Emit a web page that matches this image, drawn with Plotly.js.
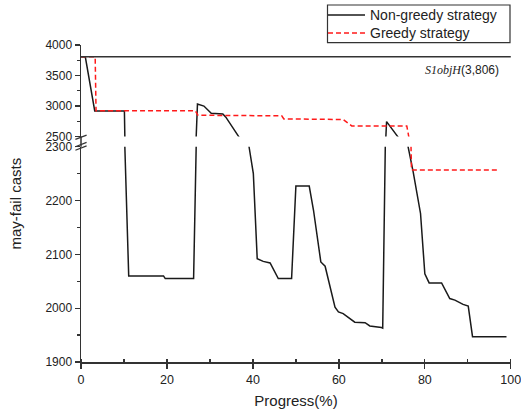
<!DOCTYPE html>
<html>
<head>
<meta charset="utf-8">
<script src="https://cdn.plot.ly/plotly-3.0.1.min.js"></script>
<style>html,body{margin:0;padding:0;background:#fff;}#chart{width:521px;height:419px;}</style>
</head>
<body>
<div id="chart"></div>
<script>
// ---- data ----
const nonGreedyX = [0, 1, 3.2, 10.1, 10.2, 10.2, 11.1, 19.2, 19.6, 26.2, 26.8, 26.8, 27.1, 28.6, 30.3, 33.0, 33.7, 36.7, 39.1, 40.1, 41.0, 42.4, 44.0, 45.9, 49.0, 50.0, 53.1, 54.1, 55.8, 56.8, 59.1, 59.9, 61.0, 63.7, 66.1, 67.2, 69.9, 70.2, 70.8, 71.0, 71.1, 73.7, 76.1, 77.3, 79.0, 80.0, 81.0, 83.9, 85.8, 87.0, 88.9, 90.1, 91.1, 99.0];
const nonGreedyY = [3806, 3806, 2920, 2920, 2500, 2300, 2060, 2060, 2055, 2055, 2300, 2500, 3033, 3000, 2883, 2872, 2818, 2500, 2300, 2250, 2092, 2087, 2084, 2055, 2055, 2227, 2227, 2182, 2086, 2078, 2002, 1993, 1990, 1974, 1973, 1967, 1964, 1963, 2300, 2500, 2746, 2500, 2300, 2253, 2176, 2064, 2047, 2047, 2018, 2015, 2007, 2004, 1947, 1947];

const greedyX = [0, 3.3, 3.5, 26.6, 27.2, 46.7, 47.2, 61.0, 63.0, 75.8, 76.9, 97.1];
const greedyY = [3806, 3806, 2925, 2925, 2850, 2840, 2790, 2780, 2675, 2675, 2257, 2257];

const seriesNames = ["Non-greedy strategy", "Greedy strategy"];
const thresholdX = [0, 100];
const thresholdValue = 3806;
const thresholdLabel = "S1objH";
const thresholdText = "(3,806)";

const xTitle = "Progress(%)";
const yTitle = "may-fail casts";
const xTicks = [0, 20, 40, 60, 80, 100];
const lowerTicks = [1900, 2000, 2100, 2200, 2300];
const upperTicks = [2500, 3000, 3500, 4000];
const lowerRange = [1900, 2300];
const upperRange = [2500, 4000];

// ---- styles ----
const black = "#1a1a1a";
const red = "#ff1a1a";
const sans = "Liberation Sans, Arial, sans-serif";
const tickFont = {family: sans, size: 12.5, color: "#222"};
const axisCommon = {
  showgrid: false, zeroline: false, showline: true, linecolor: "#333", linewidth: 1.5,
  ticks: "outside", ticklen: 5, tickwidth: 1.3, tickcolor: "#333", tickfont: tickFont,
  ticklabeloverflow: "allow"
};

const lineBlack = {color: black, width: 1.5};
const lineRed = {color: red, width: 1.5, dash: "5px,3px"};

const traces = [
  {x: nonGreedyX, y: nonGreedyY, type: "scatter", mode: "lines", name: seriesNames[0], line: lineBlack, xaxis: "x", yaxis: "y", showlegend: false},
  {x: greedyX, y: greedyY, type: "scatter", mode: "lines", name: seriesNames[1], line: lineRed, xaxis: "x", yaxis: "y", showlegend: false},
  {x: nonGreedyX, y: nonGreedyY, type: "scatter", mode: "lines", showlegend: false, line: lineBlack, xaxis: "x", yaxis: "y2"},
  {x: greedyX, y: greedyY, type: "scatter", mode: "lines", showlegend: false, line: lineRed, xaxis: "x", yaxis: "y2"},
  {x: thresholdX, y: thresholdX.map(() => thresholdValue), type: "scatter", mode: "lines", showlegend: false, line: {color: "#333", width: 1.5}, xaxis: "x", yaxis: "y2"}
];

const L = 81, R = 10, T = 45, B = 57, W = 521, H = 419;
const pw = W - L - R, ph = H - T - B;
const px2x = p => (p - L) / pw;
const py2y = p => (H - B - p) / ph;

const lowTop = 0.679, upBot = 0.711;

function slash(yc) {
  return {type: "line", xref: "paper", yref: "paper", x0: -0.013, x1: 0.013, y0: yc - 0.007, y1: yc + 0.007, line: {color: "#333", width: 1.3}};
}

// manual legend box (decoration)
const legendShapes = [
  {type: "rect", xref: "paper", yref: "paper", x0: px2x(327.5), x1: px2x(510), y0: py2y(42.7), y1: py2y(5), line: {color: "#333", width: 1.2}, fillcolor: "rgba(0,0,0,0)"},
  {type: "line", xref: "paper", yref: "paper", x0: px2x(328), x1: px2x(365), y0: py2y(15), y1: py2y(15), line: lineBlack},
  {type: "line", xref: "paper", yref: "paper", x0: px2x(328), x1: px2x(365), y0: py2y(33), y1: py2y(33), line: lineRed}
];
const legendTexts = seriesNames.map((n, i) => ({
  xref: "paper", yref: "paper", x: px2x(368), y: py2y(i === 0 ? 15 : 33), xanchor: "left", yanchor: "middle",
  showarrow: false, text: n, font: {family: sans, size: 14, color: "#222"}
}));

const layout = {
  width: W, height: H,
  margin: {l: L, r: R, t: T, b: B},
  paper_bgcolor: "#fff", plot_bgcolor: "#fff",
  showlegend: false,
  xaxis: Object.assign({}, axisCommon, {
    range: [0, 100.05], tickvals: xTicks, ticktext: xTicks.map(String), anchor: "y",
    minor: {dtick: 10, tick0: 0, ticks: "inside", ticklen: 3, tickwidth: 1.3, tickcolor: "#333"},
    title: {text: xTitle, font: {family: sans, size: 15, color: "#222"}, standoff: 10}
  }),
  yaxis: Object.assign({}, axisCommon, {
    domain: [0, lowTop], range: lowerRange, tickvals: lowerTicks, ticktext: lowerTicks.map(String), anchor: "x",
    tickfont: {family: sans, size: 12, color: "#222"},
    minor: {dtick: 50, tick0: 1900, ticks: "outside", ticklen: 3, tickwidth: 1.3, tickcolor: "#333"}
  }),
  yaxis2: Object.assign({}, axisCommon, {
    domain: [upBot, 1], range: upperRange, tickvals: upperTicks, ticktext: upperTicks.map(String), anchor: "x",
    tickfont: {family: sans, size: 12, color: "#222"},
    minor: {dtick: 250, tick0: 2500, ticks: "outside", ticklen: 3, tickwidth: 1.3, tickcolor: "#333"}
  }),
  shapes: [
    {type: "line", xref: "paper", yref: "paper", x0: 0, x1: 0, y0: lowTop, y1: upBot, line: {color: "#333", width: 1.5}},
    slash(0.709), slash(0.686), slash(0.675)
  ].concat(legendShapes),
  annotations: [
    {xref: "x", yref: "y2", x: 97.8, y: 3583, xanchor: "right", yanchor: "middle", showarrow: false,
     text: "<span style=\"font-family:'Liberation Serif',serif;font-style:italic\">" + thresholdLabel + "</span>" + thresholdText,
     font: {family: sans, size: 12, color: "#222"}},
    {xref: "paper", yref: "paper", x: px2x(15), y: 0.5, xanchor: "center", yanchor: "middle", showarrow: false, textangle: -90,
     text: yTitle, font: {family: sans, size: 15, color: "#222"}}
  ].concat(legendTexts)
};

Plotly.newPlot("chart", traces, layout, {displayModeBar: false, staticPlot: true});
</script>
</body>
</html>
